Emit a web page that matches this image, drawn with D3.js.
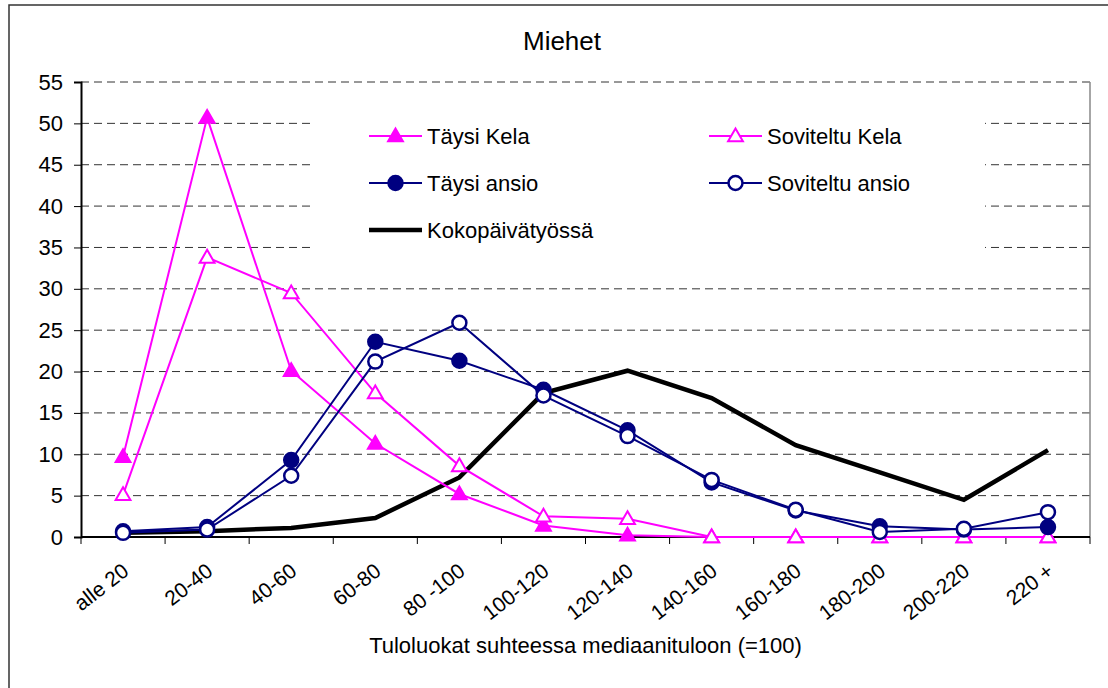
<!DOCTYPE html>
<html>
<head>
<meta charset="utf-8">
<script src="https://cdn.jsdelivr.net/npm/d3@7/dist/d3.min.js"></script>
<style>
  body { margin: 0; background: #fff; }
  svg { display: block; font-family: "Liberation Sans", Arial, sans-serif; }
</style>
</head>
<body>
<svg id="chart" width="1108" height="688"></svg>
<script>
// Income classes relative to median income (=100)
const categories = ["alle 20", "20-40", "40-60", "60-80", "80 -100", "100-120",
    "120-140", "140-160", "160-180", "180-200", "200-220", "220 +"];

const taysiKela      = [9.7, 50.7, 20.1, 11.3, 5.2, 1.4, 0.2, 0, 0, 0, 0, 0];
const soviteltuKela  = [5.1, 33.8, 29.5, 17.4, 8.6, 2.5, 2.2, 0, 0, 0, 0, 0];
const taysiAnsio     = [0.7, 1.2, 9.3, 23.6, 21.3, 17.8, 12.9, 6.6, 3.2, 1.3, 0.9, 1.2];
const soviteltuAnsio = [0.5, 0.9, 7.4, 21.2, 25.9, 17.1, 12.2, 6.9, 3.3, 0.6, 1.0, 3.0];
const kokopaiva      = [0.5, 0.7, 1.1, 2.3, 7.2, 17.4, 20.1, 16.8, 11.1, 7.8, 4.5, 10.5];

const yTicks = [0, 5, 10, 15, 20, 25, 30, 35, 40, 45, 50, 55];

const svg = d3.select("#chart");
const plot = { left: 81, right: 1090, top: 82, bottom: 537 };

// outer chart frame (runs off the right and bottom of the picture)
svg.append("rect")
    .attr("x", 9).attr("y", 5)
    .attr("width", 1120).attr("height", 700)
    .attr("fill", "#fff")
    .attr("stroke", "#333")
    .attr("stroke-width", 1.5);

const x = d3.scaleBand()
    .domain(categories)
    .range([plot.left, plot.right])
    .padding(0);
const cx = c => x(c) + x.bandwidth() / 2;

const y = d3.scaleLinear()
    .domain([0, 55])
    .range([plot.bottom, plot.top]);

// title
svg.append("text")
    .attr("x", 562).attr("y", 50)
    .attr("text-anchor", "middle")
    .attr("font-size", "26px")
    .text("Miehet");

// dashed gridlines
svg.append("g")
    .selectAll("line")
    .data(yTicks.filter(d => d > 0))
    .enter()
    .append("line")
    .attr("x1", plot.left).attr("x2", plot.right)
    .attr("y1", d => y(d)).attr("y2", d => y(d))
    .attr("stroke", "#333")
    .attr("stroke-width", 1)
    .attr("stroke-dasharray", "8,5");

// right border of plot area
svg.append("line")
    .attr("x1", plot.right).attr("x2", plot.right)
    .attr("y1", plot.top).attr("y2", plot.bottom)
    .attr("stroke", "#888")
    .attr("stroke-width", 1.5);

// y axis
const yAxis = d3.axisLeft(y)
    .tickValues(yTicks)
    .tickSize(7)
    .tickPadding(11);
const yg = svg.append("g")
    .attr("transform", `translate(${plot.left},0)`)
    .call(yAxis);
yg.select(".domain").attr("stroke", "#000").attr("stroke-width", 2);
yg.selectAll(".tick line").attr("stroke", "#000");
yg.selectAll(".tick text")
    .attr("font-size", "22px")
    .attr("font-family", "Liberation Sans, Arial, sans-serif")
    .attr("fill", "#000");

// x axis: ticks at category boundaries
const xg = svg.append("g")
    .attr("transform", `translate(0,${plot.bottom})`);
xg.append("line")
    .attr("x1", plot.left).attr("x2", plot.right)
    .attr("stroke", "#000").attr("stroke-width", 2);
xg.selectAll("line.tk")
    .data(categories.concat(["__end"]))
    .enter()
    .append("line")
    .attr("class", "tk")
    .attr("x1", (d, i) => plot.left + i * x.bandwidth())
    .attr("x2", (d, i) => plot.left + i * x.bandwidth())
    .attr("y1", 0).attr("y2", 7)
    .attr("stroke", "#000");
xg.selectAll("text")
    .data(categories)
    .enter()
    .append("text")
    .attr("text-anchor", "end")
    .attr("font-size", "21px")
    .attr("transform", d => `translate(${cx(d) - 2},${25}) rotate(-38)`)
    .attr("dy", "0.7em")
    .text(d => d);

svg.append("text")
    .attr("x", (plot.left + plot.right) / 2)
    .attr("y", 653)
    .attr("text-anchor", "middle")
    .attr("font-size", "22px")
    .text("Tuloluokat suhteessa mediaanituloon (=100)");

// series
const line = d3.line()
    .x((d, i) => cx(categories[i]))
    .y(d => y(d));

const triangle = d3.symbol().type(d3.symbolTriangle).size(95);

function drawSeries(values, color, width, marker, filled) {
    const g = svg.append("g");
    g.append("path")
        .datum(values)
        .attr("d", line)
        .attr("fill", "none")
        .attr("stroke", color)
        .attr("stroke-width", width)
        .attr("stroke-linejoin", "miter");
    if (marker === "triangle") {
        g.selectAll("path.m")
            .data(values)
            .enter()
            .append("path")
            .attr("class", "m")
            .attr("d", triangle)
            .attr("transform", (d, i) => `translate(${cx(categories[i])},${y(d) + 1})`)
            .attr("fill", filled ? color : "#fff")
            .attr("stroke", color)
            .attr("stroke-width", 2);
    } else if (marker === "circle") {
        g.selectAll("circle")
            .data(values)
            .enter()
            .append("circle")
            .attr("cx", (d, i) => cx(categories[i]))
            .attr("cy", d => y(d))
            .attr("r", 7)
            .attr("fill", filled ? color : "#fff")
            .attr("stroke", color)
            .attr("stroke-width", 2.5);
    }
}

drawSeries(kokopaiva, "#000", 4.5, null, false);
drawSeries(taysiKela, "#ff00ff", 2, "triangle", true);
drawSeries(soviteltuKela, "#ff00ff", 2, "triangle", false);
drawSeries(taysiAnsio, "#000080", 2, "circle", true);
drawSeries(soviteltuAnsio, "#000080", 2, "circle", false);

// legend (white box hides the gridlines behind it)
const legendItems = [
    { name: "Täysi Kela", color: "#ff00ff", marker: "triangle", filled: true, width: 2, col: 0, row: 0 },
    { name: "Soviteltu Kela", color: "#ff00ff", marker: "triangle", filled: false, width: 2, col: 1, row: 0 },
    { name: "Täysi ansio", color: "#000080", marker: "circle", filled: true, width: 2, col: 0, row: 1 },
    { name: "Soviteltu ansio", color: "#000080", marker: "circle", filled: false, width: 2, col: 1, row: 1 },
    { name: "Kokopäivätyössä", color: "#000", marker: null, filled: false, width: 4.5, col: 0, row: 2 }
];
const legend = svg.append("g");
legend.append("rect")
    .attr("x", 315).attr("y", 98)
    .attr("width", 670).attr("height", 164)
    .attr("fill", "#fff");

const colX = [369, 709];
const rowY = [136, 183, 230];
legendItems.forEach(it => {
    const lx = colX[it.col], ly = rowY[it.row];
    const g = legend.append("g");
    g.append("line")
        .attr("x1", lx).attr("x2", lx + 53)
        .attr("y1", ly).attr("y2", ly)
        .attr("stroke", it.color)
        .attr("stroke-width", it.width);
    if (it.marker === "triangle") {
        g.append("path")
            .attr("d", triangle)
            .attr("transform", `translate(${lx + 26.5},${ly + 1})`)
            .attr("fill", it.filled ? it.color : "#fff")
            .attr("stroke", it.color)
            .attr("stroke-width", 2);
    } else if (it.marker === "circle") {
        g.append("circle")
            .attr("cx", lx + 26.5).attr("cy", ly)
            .attr("r", 7)
            .attr("fill", it.filled ? it.color : "#fff")
            .attr("stroke", it.color)
            .attr("stroke-width", 2.5);
    }
    g.append("text")
        .attr("x", lx + 58).attr("y", ly)
        .attr("dy", "0.36em")
        .attr("font-size", "22px")
        .text(it.name);
});
</script>
</body>
</html>
